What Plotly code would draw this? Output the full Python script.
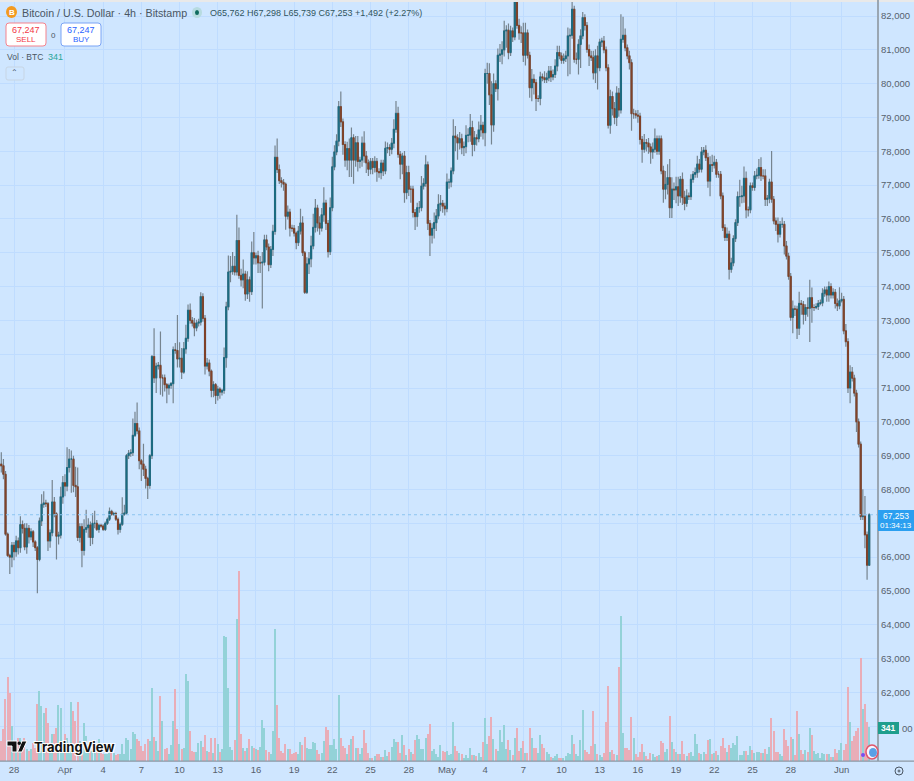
import pandas as pd
import numpy as np
import plotly.graph_objects as go

# all prices in thousands of USD
first_open = 68.75
closes = [
    68.70,68.45,66.68,66.05,66.00,66.35,66.16,66.48,66.28,66.96,
    66.85,66.30,66.85,66.60,66.75,66.45,66.28,65.93,67.07,67.56,
    67.60,67.58,66.48,66.72,67.63,67.28,66.62,66.65,67.78,68.20,
    68.10,68.65,68.90,68.90,68.12,68.08,66.58,66.90,66.20,66.82,
    66.87,66.95,66.58,67.00,67.00,66.82,66.94,66.92,66.82,67.00,
    67.12,67.35,67.27,67.29,67.12,66.82,66.97,67.27,67.30,69.00,
    69.07,69.09,69.60,69.95,69.73,68.85,68.75,68.60,68.33,68.12,
    69.00,71.93,71.30,71.65,71.67,71.30,71.30,71.10,71.00,71.08,
    71.13,72.13,72.11,71.86,71.88,71.47,72.16,72.47,73.30,73.00,
    72.92,72.78,72.92,72.95,73.70,73.06,71.65,71.74,71.50,70.93,
    71.10,70.78,70.97,70.88,70.93,71.90,73.40,74.43,74.45,74.60,
    74.43,75.36,74.33,74.20,74.37,73.78,74.20,73.85,75.00,74.85,
    74.91,74.70,74.70,74.72,75.38,75.17,74.65,75.10,75.63,77.82,
    77.46,77.13,77.08,77.03,76.08,76.20,75.73,75.72,75.58,75.30,
    75.64,75.88,75.00,73.83,74.67,74.82,75.20,75.75,76.32,75.88,
    75.73,76.12,76.47,75.87,75.03,76.33,77.54,77.98,78.30,79.32,
    78.87,78.20,77.74,78.08,77.74,78.40,77.74,78.25,77.70,77.74,
    78.24,77.86,77.66,77.47,77.70,77.52,77.70,77.40,77.37,77.65,
    77.42,78.09,78.11,78.06,78.24,78.65,79.12,77.91,77.62,77.86,
    76.78,77.37,76.88,76.88,76.19,76.07,76.33,76.33,76.97,77.05,
    77.60,75.87,75.52,75.72,75.89,76.09,76.43,76.46,76.38,76.30,
    77.09,77.09,77.42,78.45,78.40,78.25,78.37,78.11,78.14,78.47,
    78.48,78.70,78.20,78.40,78.37,78.63,78.77,78.55,80.30,80.30,
    79.67,78.78,80.00,79.85,80.84,80.87,81.00,81.56,81.58,80.92,
    81.56,81.38,82.46,81.72,81.50,81.50,80.84,81.50,80.84,79.88,
    80.13,80.03,79.56,79.56,80.20,80.17,80.12,80.17,80.37,80.20,
    80.27,80.52,80.92,80.82,80.69,80.74,80.82,81.41,81.43,82.20,
    80.72,80.72,81.16,81.41,81.95,81.72,81.01,80.82,80.77,80.32,
    80.82,80.47,81.23,81.26,81.00,80.47,78.77,79.62,79.26,79.00,
    79.72,79.22,81.31,81.43,81.06,80.82,80.62,79.11,79.11,79.07,
    79.04,78.35,78.06,78.26,78.24,78.13,77.98,78.06,78.37,78.00,
    78.37,77.42,76.88,77.02,77.22,76.33,76.88,76.86,76.95,76.68,
    77.17,76.63,76.46,76.68,76.66,77.17,77.32,77.37,77.62,77.47,
    77.98,78.03,77.81,77.12,77.60,77.59,77.67,77.32,77.32,76.68,
    75.74,75.45,75.55,74.51,74.70,75.42,75.89,76.66,76.66,76.68,
    77.20,76.27,76.27,76.98,76.93,77.27,77.29,77.52,77.27,77.27,
    76.58,76.61,77.09,76.58,75.94,75.84,75.55,75.84,75.84,75.20,
    74.90,74.30,73.09,73.34,73.33,72.77,73.50,73.47,73.18,73.38,
    73.36,73.67,73.38,73.38,73.41,73.50,73.52,73.80,73.90,73.75,
    74.00,73.75,73.83,73.50,73.43,73.58,73.62,72.69,72.37,71.00,
    71.47,71.29,70.85,70.00,69.34,67.20,67.21,66.66,65.762,67.253,
]
wick_up = [
    .35,.2,.1,.05,.05,.1,.1,.15,.1,.25,
    .12,.15,.15,.1,.1,.05,.05,.05,.1,.3,
    .35,.1,.05,.1,.65,.15,.05,.1,.3,.2,
    .25,.6,.3,.25,.1,.55,.57,.1,.1,.3,
    .53,.2,.1,.3,.37,.1,.05,.05,.05,.05,
    .05,.12,.05,.05,.05,.05,.05,.5,.25,.05,
    .1,.1,.5,.35,.62,.1,.05,.6,.1,.05,
    .05,.05,.84,.1,.1,1.0,.1,.1,.05,.05,
    .05,.1,.2,1.05,.47,.3,.2,.4,.17,.2,
    .1,.15,.1,.1,.13,.1,.1,.15,.1,.05,
    .1,.05,.1,.05,.05,.3,.15,.49,.45,.42,
    .3,.76,.39,.2,.43,.1,.25,.1,.33,.61,
    .1,.15,.2,.3,.15,.15,.1,.1,.2,.35,
    .56,.15,.1,.1,.05,.2,.1,.1,.1,.05,
    .15,.42,.2,.05,.2,.2,.3,.4,.27,.1,
    .2,.2,.47,.1,.1,.3,.3,.2,.2,.17,
    .45,.1,.1,.2,.3,.3,.1,.2,.2,.1,
    .2,.35,.15,.1,.1,.1,.15,.1,.1,.1,
    .1,.2,.15,.1,.15,.3,.37,.2,.1,.1,
    .15,.2,.2,.1,.1,.1,.15,.2,.3,.15,
    .28,.1,.1,.15,.3,.2,.3,.25,.1,.1,
    .25,.1,.1,.5,.3,.1,.2,.15,.15,.3,
    .2,.4,.2,.2,.1,.25,.3,.1,.14,.32,
    .3,.4,.3,.1,.2,.3,.25,.3,.15,.2,
    .15,.1,.02,.3,.2,.2,.3,.3,.1,.1,
    .3,.15,.1,.1,.15,.1,.2,.15,.15,.15,
    .15,.2,.2,.2,.1,.15,.15,.25,.2,.24,
    .1,.2,.15,.2,.17,.1,.1,.15,.15,.2,
    .2,.3,.1,.1,.15,.1,.1,.2,.15,.2,
    .2,.15,.74,.55,.2,.1,.15,.1,.15,.1,
    .15,.1,.1,.25,.1,.15,.1,.2,.3,.1,
    .1,.1,.15,.4,.4,.55,.35,.2,.3,.3,
    .1,.2,.2,.2,.1,.15,.1,.15,.25,.15,
    .15,.1,.15,.15,.25,.3,.2,.1,.1,.1,
    .1,.1,.2,.1,.15,.1,.1,.15,.5,.3,
    .35,.2,.1,.1,.1,.15,.2,.25,.3,.2,
    .2,.1,.1,.92,.1,.1,.2,.1,.2,.1,
    .15,.1,.1,.25,.1,.1,.35,.1,.1,.1,
    .3,.53,.3,.1,.1,.1,.1,.15,.1,.1,
    .15,.1,.12,.1,.15,.4,.2,.1,.2,.1,
    .2,.15,.1,.1,.1,.08,.8,.6,.1,.045,
]
wick_dn = [
    .2,.15,.05,.05,.5,.3,.25,.15,.2,.15,
    .15,.1,.2,.2,.1,.15,.1,1.0,.05,.15,
    .1,.1,.3,.2,.1,.1,.69,.25,.1,.2,
    .3,.15,.15,1.0,.2,.3,.1,.15,.5,.15,
    .1,.3,.25,.2,.15,.05,.1,.05,.05,.05,
    .05,.05,.05,.05,.05,.15,.1,.05,.05,.05,
    .1,.1,.1,.05,.1,.25,.5,.2,.3,.4,
    .1,.1,.15,.45,.1,.5,.55,.2,.45,.2,
    .1,.58,.1,.25,.25,.2,.05,.15,.1,.1,
    .1,.25,.1,.1,.1,.1,.25,.1,.15,.2,
    .2,.25,.15,.2,.1,.1,.3,.1,.3,.1,
    .1,.1,.1,.2,.25,.2,.15,.3,.1,.2,
    .2,.3,.3,1.35,.1,.1,.2,.1,.2,.1,
    .1,.1,.15,.2,.4,.1,.25,.1,.1,.2,
    .1,.1,.1,.05,.05,.3,.25,.1,.15,.25,
    .2,.1,.2,.2,.17,.1,.1,.1,.1,.15,
    .15,.3,.2,.3,.5,.5,.7,.2,.3,.2,
    .2,.2,.3,.2,.15,.2,.15,.3,.15,.2,
    .15,.1,.15,.2,.15,.15,.1,.1,.45,.3,
    .3,.2,.2,.4,.15,.4,.3,.15,.1,.1,
    .1,.2,.62,.25,.3,.25,.1,.2,.2,.2,
    .1,.2,.15,.1,.4,.5,.2,.2,.25,.2,
    .2,.2,.35,.2,.2,.1,.2,.2,.4,.3,
    .3,.58,.2,.1,.35,.2,.3,.2,.5,.2,
    .1,.15,.1,.1,.2,.3,.2,.3,.1,.3,
    .4,.35,.37,.1,.2,.1,.1,.1,.1,.15,
    .1,.1,.15,.1,.1,.1,.1,.6,1.13,.1,
    .1,.15,.45,.7,.1,.15,.1,.3,.1,.2,
    .3,.64,.1,.15,.1,.1,.1,.25,.2,.2,
    .25,.2,.1,.1,.1,.1,.2,.5,.15,.1,
    .2,.15,.4,.1,.25,.2,.35,.2,.1,.1,
    .1,.1,.4,.3,.3,.3,.3,.3,.4,.3,
    .2,.22,.2,.1,.1,.1,.1,.1,.15,.1,
    .1,.1,.1,.2,.45,.2,.1,.1,.1,.1,
    .1,.1,.1,.3,.1,.1,.1,.1,.3,.2,
    .2,.25,.2,.1,.1,.1,.1,.1,.15,.1,
    .2,.2,.15,.1,.1,.2,.25,.1,.1,.25,
    .1,.1,.1,.47,.2,.32,.2,.3,.3,.2,
    .25,1.0,.45,.1,.05,.1,.05,.1,.1,.2,
    .2,.1,.1,.15,.15,.1,.05,.1,.15,.15,
    .45,.1,.1,.3,.1,.1,.1,.4,.43,.023,
]
volume = [
    200,320,620,840,680,350,180,130,230,230,
    150,230,120,100,120,180,130,570,700,550,
    480,530,380,180,270,270,330,560,530,130,
    270,230,180,590,500,400,590,200,100,380,
    250,170,150,100,100,120,220,100,70,70,
    70,90,100,80,60,70,70,170,70,230,
    210,120,290,270,220,200,150,100,170,220,
    200,730,240,200,100,650,400,120,130,70,
    160,400,720,320,170,120,130,870,800,300,
    100,90,90,180,200,140,260,100,90,230,
    80,230,170,90,120,1250,1240,730,140,110,
    210,1420,1900,270,130,100,130,220,150,130,
    120,110,140,410,330,110,90,70,300,1320,
    560,230,100,80,170,120,120,70,80,90,
    70,190,160,240,130,120,120,190,180,110,
    70,80,200,340,310,160,160,220,120,660,
    230,150,130,70,160,220,250,130,130,70,
    130,310,180,80,30,30,50,70,70,40,
    40,110,50,90,140,220,190,190,80,260,
    160,60,120,90,70,210,260,220,120,120,
    230,270,370,100,120,70,40,160,100,90,
    100,60,70,390,150,100,80,70,30,60,
    30,130,60,60,50,80,40,190,430,170,
    250,440,220,120,100,310,190,360,120,210,
    110,60,230,330,100,130,200,80,80,330,
    230,130,130,80,260,170,130,90,70,40,
    30,50,70,30,30,30,50,80,70,260,
    170,70,50,210,510,110,90,70,150,500,
    170,70,60,40,80,390,750,90,110,70,
    60,940,1450,280,130,130,110,440,230,70,
    40,90,170,90,50,20,80,70,40,50,
    60,200,180,90,120,450,190,120,90,70,
    70,200,70,50,80,90,50,270,170,80,
    70,90,70,210,220,70,80,100,60,150,
    230,130,90,160,130,180,160,250,60,60,
    100,100,60,150,110,80,90,90,80,80,
    120,70,140,430,300,90,90,70,50,320,
    210,150,240,220,60,500,270,110,70,110,
    90,330,260,100,70,80,30,80,70,70,
    70,40,40,120,80,110,180,110,170,740,
    390,200,250,300,330,1030,520,570,390,341,
]
month_ticks = ["2026-03-28","2026-04-01","2026-04-04","2026-04-07","2026-04-10","2026-04-13","2026-04-16",
               "2026-04-19","2026-04-22","2026-04-25","2026-04-28","2026-05-01","2026-05-04","2026-05-07",
               "2026-05-10","2026-05-13","2026-05-16","2026-05-19","2026-05-22","2026-05-25","2026-05-28","2026-06-01"]
month_labels = ["28","Apr","4","7","10","13","16","19","22","25","28","May","4","7","10","13","16","19","22","25","28","Jun"]
price_ticks = list(range(61000, 83000, 1000))
# these two sit under the price badges in the original
covered_ticks = [61000, 67000]

assert len(closes) == len(wick_up) == len(wick_dn) == len(volume) == 410, (len(closes), len(wick_up), len(wick_dn), len(volume))

W, H = 914, 781
PLOT_R, PLOT_B = 878, 761
BG = "#cfe6ff"
GRID = "#bfdcff"

close = np.array(closes) * 1000
open_ = np.r_[first_open * 1000, close[:-1]]
high = np.maximum(open_, close) + np.array(wick_up) * 1000
low = np.minimum(open_, close) - np.array(wick_dn) * 1000
times = pd.date_range("2026-03-27", periods=len(close), freq="4h")
up = close >= open_


# picture pixels to paper fractions
def px(x):
    return x / W


def py(y):
    return 1 - y / H


def label(x, y, text, size=9.5, color="#4a5663", anchor="left", family="Liberation Sans", **kw):
    return dict(x=px(x), y=py(y), xref="paper", yref="paper", text=text, showarrow=False, xanchor=anchor,
                yanchor="middle", font=dict(size=size, color=color, family=family), **kw)


def rrect(x0, y0, x1, y1, r, line, fill, width=1):
    p = (f"M{px(x0+r)},{py(y0)} L{px(x1-r)},{py(y0)} Q{px(x1)},{py(y0)} {px(x1)},{py(y0+r)} "
         f"L{px(x1)},{py(y1-r)} Q{px(x1)},{py(y1)} {px(x1-r)},{py(y1)} L{px(x0+r)},{py(y1)} "
         f"Q{px(x0)},{py(y1)} {px(x0)},{py(y1-r)} L{px(x0)},{py(y0+r)} Q{px(x0)},{py(y0)} {px(x0+r)},{py(y0)} Z")
    return dict(type="path", xref="paper", yref="paper", path=p, line=dict(color=line, width=width), fillcolor=fill)


def box(x0, y0, x1, y1, fill, line=None, width=0, kind="rect"):
    return dict(type=kind, xref="paper", yref="paper", x0=px(x0), x1=px(x1), y0=py(y0), y1=py(y1),
                fillcolor=fill, line=dict(color=line or fill, width=width))


fig = go.Figure()

fig.add_trace(go.Bar(x=times, y=volume, yaxis="y2", width=0.62 * 4 * 3600 * 1000, hoverinfo="skip",
                     marker=dict(color=np.where(up, "#93d2d8", "#e9adb8"), line_width=0)))

# wicks first, then the bodies without wicks on top
fig.add_trace(go.Candlestick(x=times, open=open_, high=high, low=low, close=close, hoverinfo="skip",
                             whiskerwidth=0,
                             increasing=dict(line=dict(color="#76848f", width=1.2), fillcolor="#76848f"),
                             decreasing=dict(line=dict(color="#76848f", width=1.2), fillcolor="#76848f")))
fig.add_trace(go.Candlestick(x=times, open=open_, high=np.maximum(open_, close), low=np.minimum(open_, close),
                             close=close, hoverinfo="skip", whiskerwidth=0,
                             increasing=dict(line=dict(color="#1a6a80", width=1), fillcolor="#1f7088"),
                             decreasing=dict(line=dict(color="#7f4128", width=1), fillcolor="#8c4a2c")))

# scale: 2.122 px per 4h candle, first candle centre at x=1.3
hours_per_px = 4 / 2.122
x_start = times[0] - pd.Timedelta(hours=1.3 * hours_per_px)
x_end = times[0] + pd.Timedelta(hours=(PLOT_R - 1.3) * hours_per_px)
px_per_k = 33.82
y_top = 82000 + 16 / px_per_k * 1000
y_bot = 82000 - (PLOT_B - 16) / px_per_k * 1000

shapes = [
    box(0, 0, W, 2, "#e9e9e9"),
    # last price dotted line
    dict(type="line", xref="paper", yref="y", x0=0, x1=px(PLOT_R), y0=close[-1], y1=close[-1],
         line=dict(color="#8cc4f0", width=1, dash="dot")),
    # axis borders
    box(PLOT_R - 1, 0, PLOT_R + 1, PLOT_B, "#9aa6b2"),
    box(0, PLOT_B - 0.5, W, PLOT_B + 0.7, "#8b97a3"),
    # price badges
    box(PLOT_R, 510, W, 531, "#2b9ff0"),
    box(PLOT_R, 722, 899, 734, "#1f9e8d"),
    # sell / buy
    rrect(6, 23, 46, 46, 3, "#f5838d", "#ffffff"),
    rrect(61, 23, 101, 46, 3, "#7ba4f5", "#ffffff"),
    rrect(6, 67, 24, 80, 2, "#c7d5e4", BG),
    # header icons
    box(6, 6, 17, 18, "#f39a1f", kind="circle"),
    box(192, 7, 202, 18, "#b7dbe0", kind="circle"),
    box(195, 10, 199, 15, "#0f6b5f", kind="circle"),
    # gear
    box(895, 767, 903, 775, BG, "#4a5663", 1, kind="circle"),
    box(898, 770, 900, 772, BG, "#4a5663", 1, kind="circle"),
    # event badge bottom right
    box(866, 745, 878, 759, "#f7f4ff", "#e0556a", 1.5, kind="circle"),
    box(869, 748, 877, 757, "#5aa0e6", kind="circle"),
    box(861, 753, 865, 757, "#7a4df0", kind="circle"),
    # TradingView logo
    dict(type="path", xref="paper", yref="paper", line=dict(color="#ffffff", width=1), fillcolor="#111111",
         path=f"M{px(7)},{py(741)} L{px(17)},{py(741)} L{px(17)},{py(752)} L{px(12)},{py(752)} L{px(12)},{py(746)} L{px(7)},{py(746)} Z "
              f"M{px(22)},{py(741)} L{px(27)},{py(741)} L{px(22)},{py(752)} L{px(17.5)},{py(752)} Z"),
    box(17.5, 741.5, 21, 745, "#111111", kind="circle"),
]

annotations = [
    label(11.5, 12.5, "<b>B</b>", size=8, color="#ffffff", anchor="center"),
    label(20, 13, "Bitcoin / U.S. Dollar · 4h · Bitstamp", size=10.7),
    label(208, 13, "O65,762 H67,298 L65,739 C67,253 +1,492 (+2.27%)", size=9, color="#2f5560"),
    label(26, 30, "67,247", size=9, color="#f23645", anchor="center"),
    label(26, 39, "SELL", size=8, color="#f23645", anchor="center"),
    label(81, 30, "67,247", size=9, color="#2962ff", anchor="center"),
    label(81, 39, "BUY", size=8, color="#2962ff", anchor="center"),
    label(53, 35, "0", size=8, anchor="center"),
    label(5, 57, "Vol · BTC", size=8.5),
    label(46, 57, "341", size=9, color="#2ba79a"),
    label(15, 73, "⌃", size=8, anchor="center"),
    label(896, 515.5, "67,253", size=8.5, color="#ffffff", anchor="center"),
    label(896, 525.5, "01:34:13", size=8, color="#ffffff", anchor="center"),
    label(888, 728, "<b>341</b>", size=8.5, color="#ffffff", anchor="center"),
    label(900, 728, "00", size=9.5, color="#56616d"),
    label(32, 747, "<b>TradingView</b>", size=13, color="#111111", family="Inter"),
]
annotations[-1]["font"]["shadow"] = "1px 1px 0 #fff, -1px -1px 0 #fff, 1px -1px 0 #fff, -1px 1px 0 #fff"

fig.update_layout(
    width=W, height=H, margin=dict(l=0, r=0, t=0, b=0), paper_bgcolor=BG, plot_bgcolor=BG,
    showlegend=False, bargap=0, dragmode=False, shapes=shapes, annotations=annotations,
    font=dict(family="Liberation Sans", size=9.5, color="#56616d"),
    xaxis=dict(domain=[0, PLOT_R / W], range=[x_start, x_end], type="date", rangeslider_visible=False,
               tickmode="array", tickvals=month_ticks, ticktext=month_labels, ticks="", showline=False,
               showgrid=True, gridcolor=GRID, gridwidth=1, zeroline=False, tickangle=0, ticklabelstandoff=1,
               tickfont=dict(size=9.5, color="#56616d"), anchor="y"),
    yaxis=dict(domain=[1 - PLOT_B / H, 1], range=[y_bot, y_top], side="right", anchor="x",
               tickmode="array", tickvals=price_ticks,
               ticktext=["" if v in covered_ticks else f"{v:,}" for v in price_ticks], ticks="",
               showline=False, showgrid=True, gridcolor=GRID, gridwidth=1, zeroline=False, ticklabelstandoff=2,
               tickfont=dict(size=9.5, color="#56616d")),
    yaxis2=dict(domain=[1 - PLOT_B / H, 1], range=[0, PLOT_B * 10], overlaying="y", visible=False, anchor="x"),
)

fig.write_html("out.html", config=dict(displayModeBar=False),
               post_script="document.body.style.margin='0'")
